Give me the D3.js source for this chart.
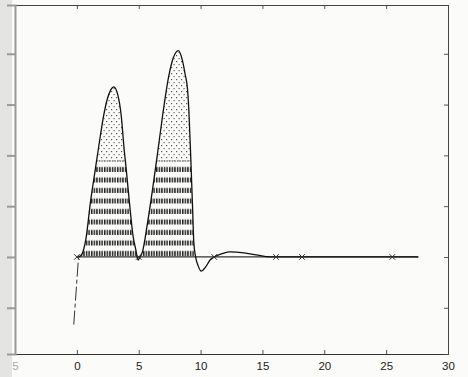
<!DOCTYPE html>
<html>
<head>
<meta charset="utf-8">
<script src="https://cdn.jsdelivr.net/npm/d3@7"></script>
<style>
  body { margin: 0; background: #fbfbf9; }
  text { font-family: "Liberation Sans", Arial, sans-serif; }
</style>
</head>
<body>
<div id="chart"></div>
<script>
// response curve
let curveT = [0.15, 0.4, 0.73, 1.13, 1.37, 1.6, 1.94, 2.18, 2.45, 2.74, 2.98, 3.3, 3.6, 3.8, 4.0, 4.3, 4.55, 4.76, 4.95, 5.1,
              5.3, 5.7, 6.13, 6.5, 6.94, 7.42, 7.8, 8.2, 8.5, 8.75, 8.95, 9.05, 9.2, 9.35, 9.45, 9.6,
              9.8, 10.05, 10.4, 10.8, 11.1, 11.8, 12.4, 13.5, 14.5, 15.6, 27.6];
let curveY = [0, 0.05, 0.35, 1.14, 1.53, 1.9, 2.45, 2.8, 3.1, 3.29, 3.35, 3.2, 2.75, 2.18, 1.7, 0.95, 0.4, 0.15, -0.06, 0,
              0.1, 0.65, 1.35, 2.0, 2.8, 3.55, 3.92, 4.06, 3.9, 3.6, 3.29, 2.9, 2.0, 1.0, 0.3, 0,
              -0.17, -0.28, -0.2, -0.05, 0, 0.07, 0.1, 0.08, 0.04, 0, 0];

// dashed start segment
let startT = [-0.25, 0.15];
let startY = [-1.33, 0.05];

// reference line and x markers
let baseT = [0, 27.6];
let markerT = [0, 5, 11.1, 16.1, 18.2, 25.5];

let xTicks = [-5, 0, 5, 10, 15, 20, 25, 30];
let yTicks = [-1, 0, 1, 2, 3, 4];

let width = 468, height = 377;
let x = d3.scaleLinear().domain([-5, 30]).range([15, 448]);
let y = d3.scaleLinear().domain([-1.91, 4.96]).range([354, 5]);

let svg = d3.select("#chart").append("svg")
    .attr("width", width)
    .attr("height", height);

// scanned page edge
svg.append("rect").attr("x", 0).attr("y", 0).attr("width", 12).attr("height", height).attr("fill", "#e4e4e2");

let defs = svg.append("defs");
let dash = defs.append("pattern")
    .attr("id", "dashes")
    .attr("patternUnits", "userSpaceOnUse")
    .attr("x", 0).attr("y", y(0))
    .attr("width", 2.6).attr("height", 10.5);
dash.append("rect").attr("x", 0).attr("y", 4.5).attr("width", 1.5).attr("height", 5).attr("fill", "#222");

let dots = defs.append("pattern")
    .attr("id", "dots")
    .attr("patternUnits", "userSpaceOnUse")
    .attr("width", 5).attr("height", 6);
dots.append("rect").attr("x", 1).attr("y", 1).attr("width", 1.2).attr("height", 1.2).attr("fill", "#555");
dots.append("rect").attr("x", 3.5).attr("y", 4).attr("width", 1.2).attr("height", 1.2).attr("fill", "#666");

defs.append("clipPath").attr("id", "low")
    .append("rect").attr("x", 0).attr("width", width)
    .attr("y", y(1.9)).attr("height", y(0) - y(1.9));
defs.append("clipPath").attr("id", "high")
    .append("rect").attr("x", 0).attr("width", width)
    .attr("y", 0).attr("height", y(1.9));

let pts = curveT.map((t, i) => ({t: t, v: curveY[i]})).filter(d => d.t <= 9.6);
let area = d3.area()
    .x(d => x(d.t))
    .y0(y(0))
    .y1(d => y(Math.max(d.v, 0)))
    .curve(d3.curveMonotoneX);

svg.append("path").datum(pts).attr("d", area)
    .attr("fill", "url(#dashes)").attr("clip-path", "url(#low)");
svg.append("path").datum(pts).attr("d", area)
    .attr("fill", "url(#dots)").attr("clip-path", "url(#high)");

// axes frame
let gray = "#999";
svg.append("g")
    .attr("transform", "translate(0," + y.range()[0] + ")")
    .call(d3.axisBottom(x).tickValues(xTicks).tickSize(-4).tickPadding(8))
    .call(g => g.select(".domain").attr("stroke", "#333"))
    .call(g => g.selectAll(".tick line").attr("stroke", "#555"))
    .call(g => g.selectAll(".tick text").attr("font-size", 11.5).attr("fill", "#222")
        .text(d => d === -5 ? "5" : d))
    .call(g => g.selectAll(".tick").filter(d => d === -5).select("text").attr("fill", "#aaa"));

svg.append("g")
    .attr("transform", "translate(0," + y.range()[1] + ")")
    .call(d3.axisTop(x).tickValues(xTicks).tickSize(-4).tickFormat(""))
    .call(g => g.select(".domain").attr("stroke", "#444"))
    .call(g => g.selectAll(".tick line").attr("stroke", "#555"));

svg.append("g")
    .attr("transform", "translate(" + x(30) + ",0)")
    .call(d3.axisRight(y).tickValues(yTicks).tickSize(-4).tickFormat(""))
    .call(g => g.select(".domain").attr("stroke", "#444"))
    .call(g => g.selectAll(".tick line").attr("stroke", "#555"));

svg.append("g")
    .attr("transform", "translate(" + x(-5) + ",0)")
    .call(d3.axisLeft(y).tickValues(yTicks).tickSize(8).tickFormat(""))
    .call(g => g.select(".domain").attr("stroke", gray).attr("stroke-width", 2))
    .call(g => g.selectAll(".tick line").attr("stroke", gray).attr("stroke-width", 2));

// baseline
svg.append("line")
    .attr("x1", x(baseT[0])).attr("x2", x(baseT[1]))
    .attr("y1", y(0)).attr("y2", y(0))
    .attr("stroke", "#333").attr("stroke-width", 1.2);

// curve
let line = d3.line()
    .x((d, i) => x(d))
    .y((d, i) => y(curveY[i]))
    .curve(d3.curveMonotoneX);
svg.append("path")
    .attr("d", line(curveT))
    .attr("fill", "none")
    .attr("stroke", "#111")
    .attr("stroke-width", 1.3);

svg.append("path")
    .attr("d", d3.line().x(d => x(d)).y((d, i) => y(startY[i]))(startT))
    .attr("fill", "none")
    .attr("stroke", "#333")
    .attr("stroke-width", 1)
    .attr("stroke-dasharray", "14,3,4,3");

// x markers
svg.selectAll(".mk")
    .data(markerT)
    .enter().append("path")
    .attr("class", "mk")
    .attr("d", d3.symbol().type(d3.symbolX).size(22))
    .attr("transform", d => "translate(" + x(d) + "," + y(0) + ")")
    .attr("fill", "none")
    .attr("stroke", "#333")
    .attr("stroke-width", 1);
</script>
</body>
</html>
